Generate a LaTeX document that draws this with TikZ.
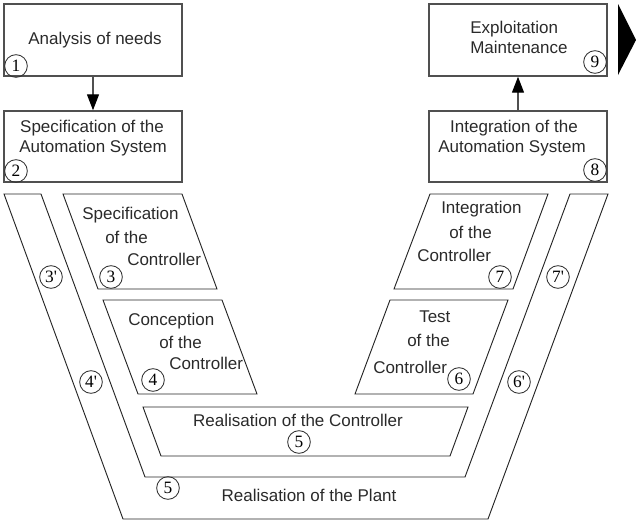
\documentclass[tikz,border=0pt]{standalone}
\usepackage{fontspec}
\setmainfont{Liberation Sans}
\newfontfamily\numfont{Liberation Serif}
\usetikzlibrary{arrows.meta}
\definecolor{linegray}{HTML}{505050}
\definecolor{textgray}{HTML}{2A2A2A}

\tikzset{
  stage/.style={draw=linegray, line width=1.1pt, minimum width=133.5pt, minimum height=54pt, inner sep=0pt},
  band/.style={draw=black!85, line width=0.7pt},
  txt/.style={anchor=base, inner sep=0pt, text=textgray, font=\fontsize{12.75}{15}\selectfont},
  txtw/.style={txt, anchor=base west},
  num/.style={draw=black!80, circle, line width=0.65pt, minimum size=17pt, inner sep=0pt, font=\numfont\fontsize{13}{13}\selectfont},
  flow/.style={-{Triangle[length=12pt,width=9pt,color=black]}, draw=linegray, line width=1pt}
}

\begin{document}
\begin{tikzpicture}[x=0.75pt, y=-0.75pt]
    \useasboundingbox (0,0) rectangle (636,522);

    % the four boxes at the top
    \node[stage] (b1) at (93,40) {};
    \node[stage, minimum height=53.25pt] (b2) at (93,146.5) {};
    \node[stage] (b9) at (518,40) {};
    \node[stage, minimum height=53.25pt] (b8) at (518,146.5) {};
    \draw[flow] (b1) -- (b2);
    \draw[flow] (b8) -- (b9);
    \fill[black] (618,4) -- (636,40) -- (618,75) -- cycle;

    \node[txt] (t1) at (95,44) {Analysis of needs};
    \node[txt] (t2a) at (92,132) {Specification of the};
    \node[txt] (t2b) at (93,152) {Automation System};
    \node[txtw] (t9a) at (470,33) {Exploitation};
    \node[txtw] (t9b) at (470,53) {Maintenance};
    \node[txt] (t8a) at (514,132) {Integration of the};
    \node[txt] (t8b) at (512,152) {Automation System};

    % the V
    \draw[band] (4,194) -- (41,194) -- (145,477) -- (465,477) -- (570,194)
      -- (608,194) -- (488,519) -- (123,519) -- cycle;
    \draw[band] (63,194) -- (182,194) -- (217,289) -- (98,289) -- cycle;
    \draw[band] (103,300) -- (222,300) -- (257,394) -- (138,394) -- cycle;
    \draw[band] (430,194) -- (548,194) -- (513,289) -- (394,289) -- cycle;
    \draw[band] (390,300) -- (508,300) -- (473,394) -- (355,394) -- cycle;
    \draw[band] (143,407) -- (468,407) -- (450,456) -- (161,456) -- cycle;

    \node[txtw] (t3a) at (82,219) {Specification};
    \node[txtw] (t3b) at (105,243) {of the};
    \node[txtw] (t3c) at (127,265) {Controller};
    \node[txtw] (t4a) at (128,325) {Conception};
    \node[txtw] (t4b) at (159,348) {of the};
    \node[txtw] (t4c) at (169,369) {Controller};
    \node[txtw] (t6a) at (419,322) {Test};
    \node[txtw] (t6b) at (407,346) {of the};
    \node[txtw] (t6c) at (373,373) {Controller};
    \node[txtw] (t7a) at (441,213) {Integration};
    \node[txtw] (t7b) at (449,238) {of the};
    \node[txtw] (t7c) at (417,261) {Controller};
    \node[txt] (t5a) at (298,426) {Realisation of the Controller};
    \node[txt] (t5b) at (309,501) {Realisation of the Plant};

    % step numbers
    \node[num] (n1) at (16,66) {1};
    \node[num] (n2) at (16,171) {2};
    \node[num] (n9) at (595,62) {9};
    \node[num] (n8) at (595,170) {8};
    \node[num] (n3) at (111,277) {3};
    \node[num] (n3p) at (51,277) {3'};
    \node[num] (n4) at (153,380) {4};
    \node[num] (n4p) at (91,382) {4'};
    \node[num] (n6) at (459,379) {6};
    \node[num] (n6p) at (519,382) {6'};
    \node[num] (n7) at (500,277) {7};
    \node[num] (n7p) at (558,277) {7'};
    \node[num] (n5) at (299,442) {5};
    \node[num] (n5p) at (168,488) {5};
\end{tikzpicture}
\end{document}
